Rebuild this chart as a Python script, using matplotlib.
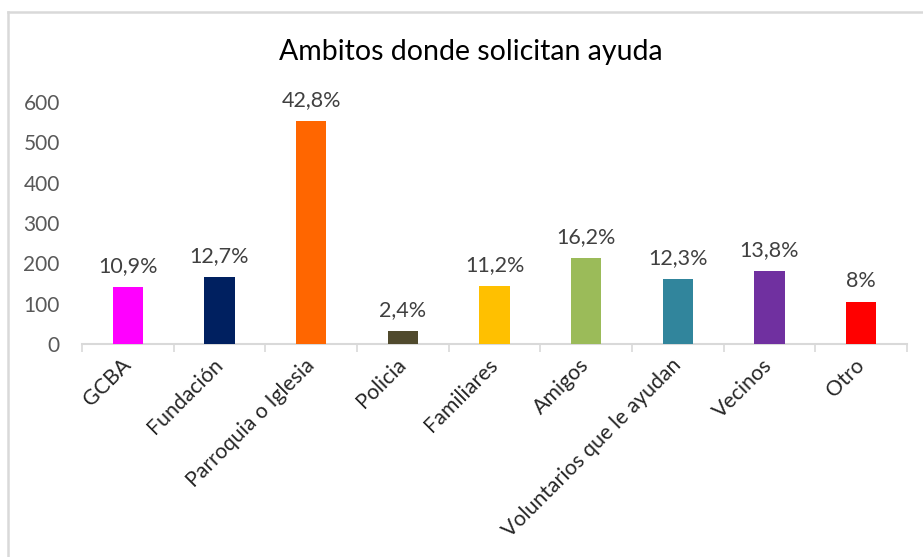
import matplotlib
matplotlib.use('Agg')
import matplotlib.pyplot as plt
from matplotlib.lines import Line2D

plt.rcParams['font.family'] = ['Lato', 'DejaVu Sans']

TITLE = 'Ambitos donde solicitan ayuda'
categories = ['GCBA', 'Fundación', 'Parroquia o Iglesia', 'Policia', 'Familiares',
              'Amigos', 'Voluntarios que le ayudan', 'Vecinos', 'Otro']
counts = [141, 165, 552, 31, 144, 212, 160, 181, 105]
pct_labels = ['10,9%', '12,7%', '42,8%', '2,4%', '11,2%', '16,2%', '12,3%', '13,8%', '8%']
colors = ['#FF00FF', '#002060', '#FF6600', '#504A2D', '#FFC000',
          '#9BBB59', '#31859C', '#7030A0', '#FF0000']
yticks = [0, 100, 200, 300, 400, 500, 600]

fig = plt.figure(figsize=(9.23, 5.57), dpi=100)
ax = fig.add_axes([82 / 923, 1 - 344 / 557, 825 / 923, 242 / 557])

x = range(len(categories))
bars = ax.bar(x, counts, width=0.33, color=colors, zorder=3)

# percentage labels above bars
for b, lab in zip(bars, pct_labels):
    ax.annotate(lab, (b.get_x() + b.get_width() / 2, b.get_height()),
                xytext=(0, 8), textcoords='offset points',
                ha='center', va='bottom', fontsize=15.5, color='#404040')

ax.set_xlim(-0.5, len(categories) - 0.5)
ax.set_ylim(0, 600)
ax.set_yticks(yticks)
ax.set_yticklabels([str(v) for v in yticks], fontsize=15, color='#595959')
ax.tick_params(axis='y', length=0, pad=16)

ax.set_xticks(list(x))
ax.set_xticklabels(categories, rotation=45, ha='right', va='center',
                   rotation_mode='anchor', fontsize=15.3, color='#262626')
ax.tick_params(axis='x', which='major', length=0, pad=13)
ax.set_xticks([i - 0.5 for i in range(len(categories) + 1)], minor=True)
ax.tick_params(axis='x', which='minor', length=5.5, width=1.2, color='#D9D9D9')

for s in ['top', 'right', 'left']:
    ax.spines[s].set_visible(False)
ax.spines['bottom'].set_color('#D9D9D9')
ax.spines['bottom'].set_linewidth(1.5)

fig.text(471 / 923, 1 - 52 / 557, TITLE, ha='center', va='center',
         fontsize=20.5, color='#000000')

# chart area border (left and top edges visible)
fig.add_artist(Line2D([8 / 923, 8 / 923], [0, 1 - 12 / 557], transform=fig.transFigure,
                      color='#D9D9D9', lw=1.8))
fig.add_artist(Line2D([8 / 923, 1], [1 - 12 / 557, 1 - 12 / 557], transform=fig.transFigure,
                      color='#D9D9D9', lw=1.8))

fig.savefig('out.png', dpi=100, facecolor='white')
